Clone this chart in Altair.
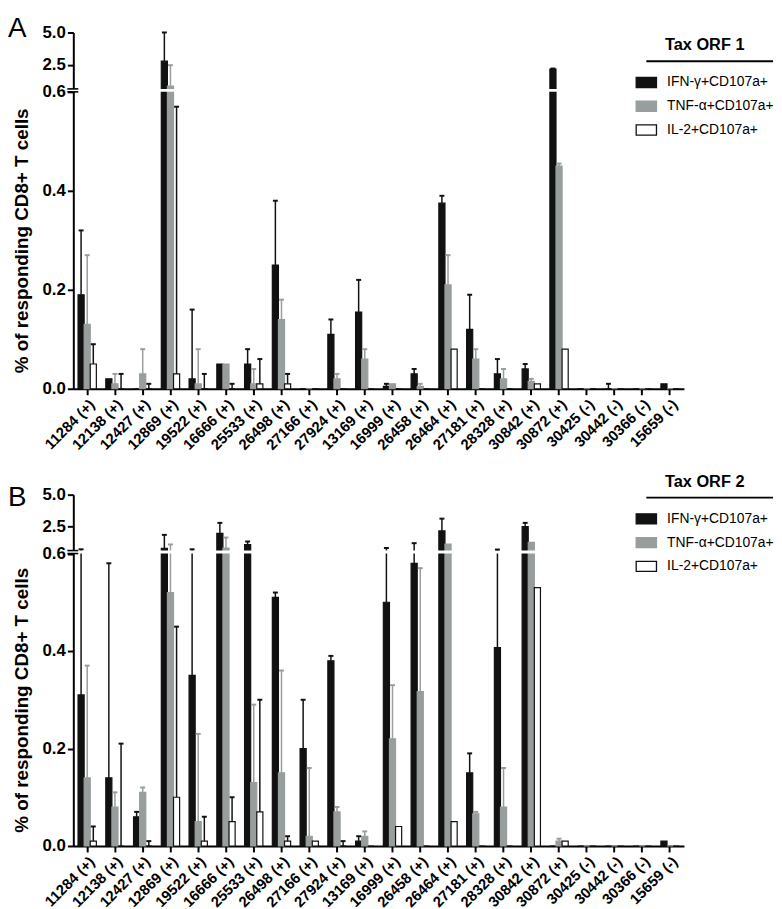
import altair as alt
import pandas as pd

categories = ["11284 (+)", "12138 (+)", "12427 (+)", "12869 (+)", "19522 (+)", "16666 (+)",
              "25533 (+)", "26498 (+)", "27166 (+)", "27924 (+)", "13169 (+)", "16999 (+)",
              "26458 (+)", "26464 (+)", "27181 (+)", "28328 (+)", "30842 (+)", "30872 (+)",
              "30425 (-)", "30442 (-)", "30366 (-)", "15659 (-)"]
series = ["IFN-γ+CD107a+", "TNF-α+CD107a+", "IL-2+CD107a+"]

# Panel A (Tax ORF 1): bar means and upper ends of error bars
ifn_A = [0.19, 0.02, 0.0, 2.77, 0.02, 0.05, 0.05, 0.25, 0.0, 0.11, 0.155, 0.005,
         0.03, 0.375, 0.12, 0.03, 0.04, 2.16, 0.0, 0.0, 0.0, 0.01]
ifn_err_A = [0.32, 0.02, 0.0, 5.0, 0.16, 0.05, 0.08, 0.38, 0.0, 0.14, 0.22, 0.01,
             0.04, 0.39, 0.19, 0.06, 0.05, 2.2, 0.0, 0.01, 0.0, 0.01]
tnf_A = [0.13, 0.01, 0.03, 0.83, 0.01, 0.05, 0.01, 0.14, 0.0, 0.02, 0.06, 0.01,
         0.005, 0.21, 0.06, 0.02, 0.015, 0.45, 0.0, 0.0, 0.0, 0.0]
tnf_err_A = [0.27, 0.03, 0.08, 2.46, 0.08, 0.05, 0.04, 0.18, 0.0, 0.03, 0.08, 0.01,
             0.01, 0.27, 0.08, 0.04, 0.02, 0.455, 0.0, 0.0, 0.0, 0.0]
il2_A = [0.05, 0.0, 0.0, 0.03, 0.0, 0.0, 0.01, 0.01, 0.0, 0.0, 0.0, 0.0,
         0.0, 0.08, 0.0, 0.0, 0.01, 0.08, 0.0, 0.0, 0.0, 0.0]
il2_err_A = [0.09, 0.03, 0.01, 0.57, 0.03, 0.01, 0.06, 0.03, 0.0, 0.0, 0.0, 0.0,
             0.0, 0.08, 0.0, 0.0, 0.01, 0.08, 0.0, 0.0, 0.0, 0.0]

# Panel B (Tax ORF 2)
ifn_B = [0.31, 0.14, 0.06, 0.8, 0.35, 1.97, 1.08, 0.51, 0.2, 0.38, 0.01, 0.5,
         0.58, 2.16, 0.15, 0.407, 2.49, 0.0, 0.0, 0.0, 0.0, 0.01]
ifn_err_B = [0.72, 0.58, 0.07, 1.85, 0.72, 2.79, 1.33, 0.52, 0.30, 0.39, 0.02, 0.82,
             1.2, 3.12, 0.19, 0.7, 2.79, 0.0, 0.0, 0.0, 0.0, 0.01]
tnf_B = [0.14, 0.08, 0.11, 0.52, 0.05, 0.82, 0.13, 0.15, 0.02, 0.07, 0.02, 0.22,
         0.317, 1.13, 0.066, 0.08, 1.26, 0.01, 0.0, 0.0, 0.0, 0.0]
tnf_err_B = [0.37, 0.11, 0.12, 1.1, 0.23, 1.64, 0.29, 0.36, 0.16, 0.08, 0.03, 0.33,
             0.57, 1.13, 0.07, 0.16, 1.26, 0.015, 0.0, 0.0, 0.0, 0.0]
il2_B = [0.01, 0.0, 0.0, 0.10, 0.01, 0.05, 0.07, 0.01, 0.01, 0.0, 0.0, 0.04,
         0.0, 0.05, 0.0, 0.0, 0.53, 0.01, 0.0, 0.0, 0.0, 0.0]
il2_err_B = [0.04, 0.21, 0.01, 0.45, 0.06, 0.10, 0.30, 0.02, 0.01, 0.01, 0.0, 0.04,
             0.0, 0.05, 0.0, 0.0, 0.53, 0.01, 0.0, 0.0, 0.0, 0.0]

y_ticks = [0.0, 0.2, 0.4, 0.6, 2.5, 5.0]
y_domain = [0.0, 0.6, 0.62, 5.0]

F = "Liberation Sans"
BLACK = "#111111"
GREY = "#989d9d"
fills = [BLACK, GREY, "#ffffff"]
strokes = [BLACK, GREY, BLACK]
W = 617
YT = "% of responding CD8+ T cells"


def long_df(vals):
    rows = []
    for s, (v, e) in zip(series, vals):
        for c, vv, ee in zip(categories, v, e):
            rows.append({"cat": c, "series": s, "value": vv, "err": ee})
    return pd.DataFrame(rows)


def panel(df, letter, legend_title, legend_y, letter_y, underline_y, H, brk_lo):
    xscale = alt.Scale(domain=categories, paddingInner=0.34, paddingOuter=0.17)
    yscale = alt.Scale(domain=y_domain, range=[H, brk_lo, brk_lo - 3, 0], nice=False, zero=False)
    xoff = alt.XOffset("series:N", scale=alt.Scale(domain=series, paddingInner=0, paddingOuter=0))
    xaxis = alt.Axis(labelAngle=-45, labelFontSize=15, labelFontWeight="bold", labelAlign="right",
                     labelBaseline="top", labelPadding=2, tickSize=6, tickWidth=2, domainWidth=2,
                     labelOverlap=False, labelColor="black", domainColor="black", tickColor="black",
                     labelFont=F)
    yaxis = alt.Axis(values=y_ticks, format=".1f", labelFontSize=17, labelFontWeight="bold",
                     titleFontSize=19, titleFontWeight="bold", titlePadding=11,
                     titleY=(H + brk_lo) / 2,
                     domainWidth=2, tickWidth=2, tickSize=6, grid=False, labelPadding=2,
                     labelColor="black", titleColor="black", domainColor="black", tickColor="black",
                     labelFont=F, titleFont=F)
    legend = alt.Legend(title=legend_title, orient="none", legendX=568, legendY=legend_y,
                        titleFontSize=16.5, titleFont=F, titleFontWeight="bold", titleAnchor="middle",
                        titlePadding=18, titleColor="black", labelFontSize=14, labelFont=F,
                        labelColor="black", symbolType="M-1,-0.5L1,-0.5L1,0.5L-1,0.5Z",
                        symbolSize=420, symbolStrokeWidth=1.3, rowPadding=5, labelOffset=10,
                        direction="vertical")
    x = alt.X("cat:N", scale=xscale, axis=xaxis, title=None)
    color = alt.Color("series:N", scale=alt.Scale(domain=series, range=fills), legend=legend)
    stroke = alt.Stroke("series:N", scale=alt.Scale(domain=series, range=strokes), legend=legend)

    bars = alt.Chart(df).mark_bar(strokeWidth=1.2).encode(
        x=x, xOffset=xoff,
        y=alt.Y("value:Q", scale=yscale, axis=yaxis, title=YT),
        color=color, stroke=stroke)
    errs = alt.Chart(df).transform_filter("datum.err > datum.value").mark_rule(strokeWidth=1.5).encode(
        x=x, xOffset=xoff,
        y=alt.Y("value:Q", scale=yscale, axis=yaxis, title=YT), y2="err:Q",
        stroke=stroke)
    caps = alt.Chart(df).transform_filter("datum.err > datum.value").mark_point(
        shape="M-1,0L1,0", size=25, strokeWidth=2, filled=False, opacity=1).encode(
        x=x, xOffset=xoff,
        y=alt.Y("err:Q", scale=yscale, axis=yaxis, title=YT),
        stroke=stroke)
    gap_df = pd.DataFrame({"lo": [0.6], "hi": [0.62]})
    gap = alt.Chart(gap_df).mark_rect(fill="white", stroke=None).encode(
        y=alt.Y("lo:Q", scale=yscale, axis=yaxis, title=YT), y2="hi:Q",
        x=alt.value(-1.5), x2=alt.value(W))
    brk_df = pd.DataFrame({"v": [0.6, 0.62]})
    brk = alt.Chart(brk_df).mark_rule(strokeWidth=1.6, color="black").encode(
        y=alt.Y("v:Q", scale=yscale, axis=yaxis, title=YT),
        x=alt.value(-6), x2=alt.value(5))
    one = pd.DataFrame({"t": [letter]})
    uline = alt.Chart(one).mark_rule(strokeWidth=2, color="black").encode(
        x=alt.value(579), x2=alt.value(707), y=alt.value(underline_y))
    lab = alt.Chart(one).mark_text(fontSize=28, font=F, align="left", baseline="alphabetic",
                                   color="black").encode(
        text="t:N", x=alt.value(-66), y=alt.value(letter_y))
    return alt.layer(bars, errs, gap, brk, caps, uline, lab).properties(width=W, height=H)


dfA = long_df([(ifn_A, ifn_err_A), (tnf_A, tnf_err_A), (il2_A, il2_err_A)])
dfB = long_df([(ifn_B, ifn_err_B), (tnf_B, tnf_err_B), (il2_B, il2_err_B)])

A = panel(dfA, "A", "Tax ORF 1", 5, 5, 29, 360, 60)
B = panel(dfB, "B", "Tax ORF 2", -21, 11, 3, 355, 59.5)

chart = alt.vconcat(A, B, spacing=107, bounds="flush").resolve_scale(
    color="independent", stroke="independent", x="independent", y="independent"
).resolve_legend(color="independent", stroke="independent").configure(
    font=F).configure_view(stroke=None).properties(
    padding={"top": 3, "left": 0, "right": 0, "bottom": 0})

chart.save("out.html", embed_options={"renderer": "svg", "actions": False})
